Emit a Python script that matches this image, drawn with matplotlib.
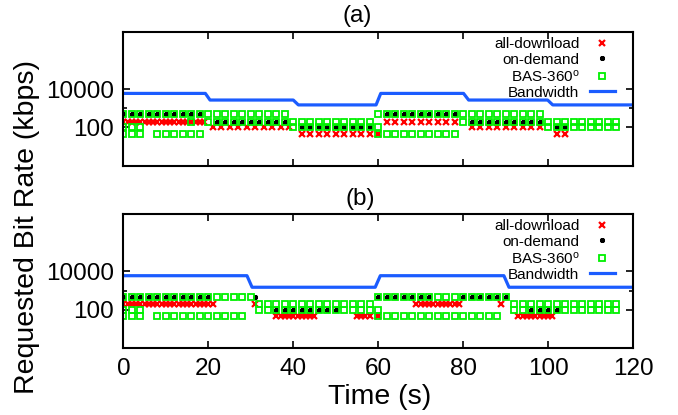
import matplotlib
matplotlib.use('Agg')
import matplotlib.pyplot as plt
from matplotlib.ticker import NullFormatter

plt.rcParams['font.family'] = ['Liberation Sans', 'DejaVu Sans']
plt.rcParams['mathtext.fontset'] = 'custom'
plt.rcParams['mathtext.rm'] = 'Liberation Sans'
plt.rcParams['mathtext.it'] = 'Liberation Sans:italic'

# bit rate levels (kbps) seen in the requests
R1, R2, R3, R4 = 480, 200, 100, 45

# ---- (a) ----
a_alldl = {
    R2: [0, 1, 2, 3, 4, 5, 6, 7, 8, 9, 10, 11, 12, 13, 14, 15, 16, 17, 18, 19,
         62, 64, 66, 68, 70, 72, 74, 76, 78],
    R3: [21, 23, 25, 27, 29, 31, 33, 35, 37, 39, 82, 84, 86, 88, 90, 92, 94, 96, 98],
    R4: [42, 44, 46, 48, 50, 52, 54, 56, 58, 60, 102, 104],
}
a_ondemand = {
    R1: [0, 2, 4, 6, 8, 10, 12, 14, 16, 18, 62, 64, 66, 68, 70, 72, 74, 76, 78],
    R2: [22, 24, 26, 28, 30, 32, 34, 36, 38, 82, 84, 86, 88, 90, 92, 94, 96, 98],
    R3: [42, 44, 46, 48, 50, 52, 54, 56, 58, 102, 104],
}
a_bas = {
    R1: [0, 2, 4, 6, 8, 10, 12, 14, 16, 18, 20, 22, 24, 26, 28, 30, 32, 34, 36, 38,
         60, 62, 64, 66, 68, 70, 72, 74, 76, 78, 80, 82, 84, 86, 88, 90, 92, 94, 96, 98],
    R2: [16, 20, 22, 24, 26, 28, 30, 32, 34, 36, 38, 40, 42, 44, 46, 48, 50, 52, 54, 56, 58,
         80, 82, 84, 86, 88, 90, 92, 94, 96, 98, 100, 102, 104, 106, 108, 110, 112, 114, 116],
    R3: [0, 2, 4, 40, 42, 44, 46, 48, 50, 52, 54, 56, 58, 60,
         100, 102, 104, 106, 108, 110, 112, 114, 116],
    R4: [0, 2, 4, 8, 10, 12, 14, 16, 18, 60, 62, 64, 66, 68, 70, 72, 74, 76, 78],
}
a_bw_t = [0, 19.3, 20.4, 40, 41.2, 59.5, 60.6, 80.1, 81.3, 99.9, 101.1, 120]
a_bw = [6000, 6000, 2700, 2700, 1500, 1500, 6000, 6000, 2700, 2700, 1500, 1500]

# ---- (b) ----
b_alldl = {
    R2: [0, 1, 2, 3, 4, 5, 6, 7, 8, 9, 10, 11, 12, 13, 14, 15, 16, 17, 18, 19, 20, 21,
         31, 69, 70, 71, 72, 73, 74, 75, 76, 77, 78, 79, 89],
    R4: [36, 37, 38, 39, 40, 41, 42, 43, 44, 45, 55, 56, 57, 58, 60,
         93, 94, 95, 96, 97, 98, 99, 100, 101],
}
b_ondemand = {
    R1: [0, 2, 4, 6, 8, 10, 12, 14, 16, 18, 20, 31, 60, 62, 64, 66, 68, 70, 72,
         80, 82, 84, 86, 88, 90],
    R3: [36, 38, 40, 42, 44, 46, 48, 50, 96, 98, 100, 102],
}
b_bas = {
    R1: [0, 2, 4, 6, 8, 10, 12, 14, 16, 18, 20, 22, 24, 26, 28, 30,
         60, 62, 64, 66, 68, 70, 72, 74, 76, 78, 80, 82, 84, 86, 88, 90],
    R2: [32, 34, 36, 38, 40, 42, 44, 46, 48, 50, 52, 54, 56, 58,
         92, 94, 96, 98, 100, 102, 104, 106, 108, 110, 112, 114, 116],
    R3: [0, 2, 4, 32, 34, 36, 38, 40, 42, 44, 46, 48, 50, 52, 54, 56, 58, 60,
         92, 94, 96, 98, 100, 102, 104, 106, 108, 110, 112, 114, 116],
    R4: [0, 2, 4, 8, 10, 12, 14, 16, 18, 20, 22, 24, 26, 28,
         60, 62, 64, 66, 68, 70, 72, 74, 76, 78, 80, 82, 84, 86, 88],
}
b_bw_t = [0, 29.1, 30.3, 59.3, 60.5, 89.6, 90.8, 120]
b_bw = [6000, 6000, 1500, 1500, 6000, 6000, 1500, 1500]


def points(d):
    xs, ys = [], []
    for rate, times in d.items():
        xs += times
        ys += [rate] * len(times)
    return xs, ys


def draw(ax, alldl, ondemand, bas, bw_t, bw):
    x, y = points(alldl)
    ax.plot(x, y, ls='none', marker='x', color='#ff0000', ms=4, mew=1.6, label='all-download')
    x, y = points(ondemand)
    ax.plot(x, y, ls='none', marker=(6, 2, 0), color='black', ms=3.5, mew=1.3, label='on-demand')
    x, y = points(bas)
    ax.plot(x, y, ls='none', marker='s', mfc='none', mec='#00f000', ms=4.2, mew=1.3,
            label='BAS-360$^\\mathrm{o}$')
    ax.plot(bw_t, bw, color='#1b5cff', lw=2.3, label='Bandwidth')

    ax.set_yscale('log')
    ax.set_ylim(1, 1e7)
    ax.set_xlim(0, 120)
    ax.set_yticks([100, 10000])
    ax.set_yticklabels(['100', '10000'])
    ax.set_yticks([1000], minor=True)
    ax.yaxis.set_minor_formatter(NullFormatter())
    ax.set_xticks([0, 20, 40, 60, 80, 100, 120])
    ax.tick_params(which='major', direction='in', top=True, right=True, length=5,
                   width=1.2, labelsize=17.5, pad=7)
    ax.tick_params(which='minor', direction='in', right=True, length=3, width=1.2)
    for s in ax.spines.values():
        s.set_linewidth(1.5)

    ax.legend(loc='upper right', bbox_to_anchor=(0.965, 0.96), markerfirst=False,
              frameon=False, fontsize=11, numpoints=1, handlelength=1.67,
              handletextpad=0.67, labelspacing=0.1, borderpad=0, borderaxespad=0)


fig = plt.figure(figsize=(6.78, 4.15), dpi=100)
ax_a = fig.add_axes([0.182, 0.601, 0.7516, 0.3222])
ax_b = fig.add_axes([0.182, 0.161, 0.7516, 0.3236])

draw(ax_a, a_alldl, a_ondemand, a_bas, a_bw_t, a_bw)
draw(ax_b, b_alldl, b_ondemand, b_bas, b_bw_t, b_bw)
ax_a.set_xticklabels([])

fig.text(0.527, 0.961, '(a)', ha='center', va='center', fontsize=17.5)
fig.text(0.531, 0.52, '(b)', ha='center', va='center', fontsize=17.5)
fig.text(0.04, 0.453, 'Requested Bit Rate (kbps)', rotation=90, ha='center', va='center',
         fontsize=20.5)
fig.text(0.56, 0.043, 'Time (s)', ha='center', va='center', fontsize=20.5)

fig.savefig('out.png', dpi=100)
